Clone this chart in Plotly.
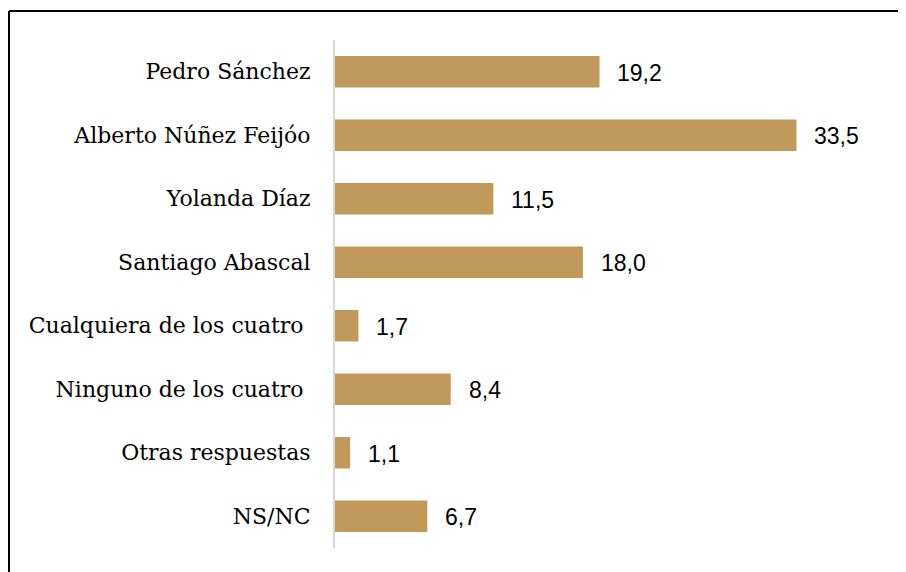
import plotly.graph_objects as go

categories = ["Pedro Sánchez", "Alberto Núñez Feijóo", "Yolanda Díaz", "Santiago Abascal",
              "Cualquiera de los cuatro\u00a0", "Ninguno de los cuatro\u00a0", "Otras respuestas", "NS/NC"]
values = [19.2, 33.5, 11.5, 18.0, 1.7, 8.4, 1.1, 6.7]
value_labels = [f"{v:.1f}".replace(".", ",") for v in values]

BAR = "#C19A5B"

fig = go.Figure(go.Bar(
    x=values, y=categories, orientation="h",
    marker=dict(color=BAR, line=dict(width=0)),
    hoverinfo="skip",
))

for c, v, t in zip(categories, values, value_labels):
    fig.add_annotation(x=v, y=c, text=t, showarrow=False, xanchor="left", yanchor="middle",
                       xshift=16, yshift=-1,
                       font=dict(family="Liberation Sans", size=23, color="#000000"))

# page has an 8px body margin, so the figure is drawn at (8, 8)
W, H = 898, 564
L, R, T, B = 327, 20, 32, 24
pw, ph = W - L - R, H - T - B
bx = (1 - L) / pw
by = 1 + (T - 3) / ph
ex = (W + 2 - L) / pw
ey = (-B - 2) / ph

fig.add_shape(type="line", xref="paper", yref="paper", x0=bx, x1=bx, y0=by, y1=ey,
              line=dict(color="#000000", width=2))
fig.add_shape(type="line", xref="paper", yref="paper", x0=bx, x1=ex, y0=by, y1=by,
              line=dict(color="#000000", width=2))

fig.update_layout(
    width=W, height=H,
    margin=dict(l=L, r=R, t=T, b=B),
    paper_bgcolor="white", plot_bgcolor="white",
    bargap=0.505,
    showlegend=False,
    xaxis=dict(range=[0, 40], visible=False, showgrid=False, zeroline=False),
    yaxis=dict(autorange="reversed", showline=True, linecolor="#D9D9D9", linewidth=2,
               ticks="", showgrid=False, ticklabelstandoff=18,
               tickfont=dict(family="DejaVu Serif", size=22, color="#000000")),
)

fig.write_html("out.html", config={"displayModeBar": False},
               post_script="document.documentElement.style.overflow='hidden';document.body.style.overflow='hidden';")
